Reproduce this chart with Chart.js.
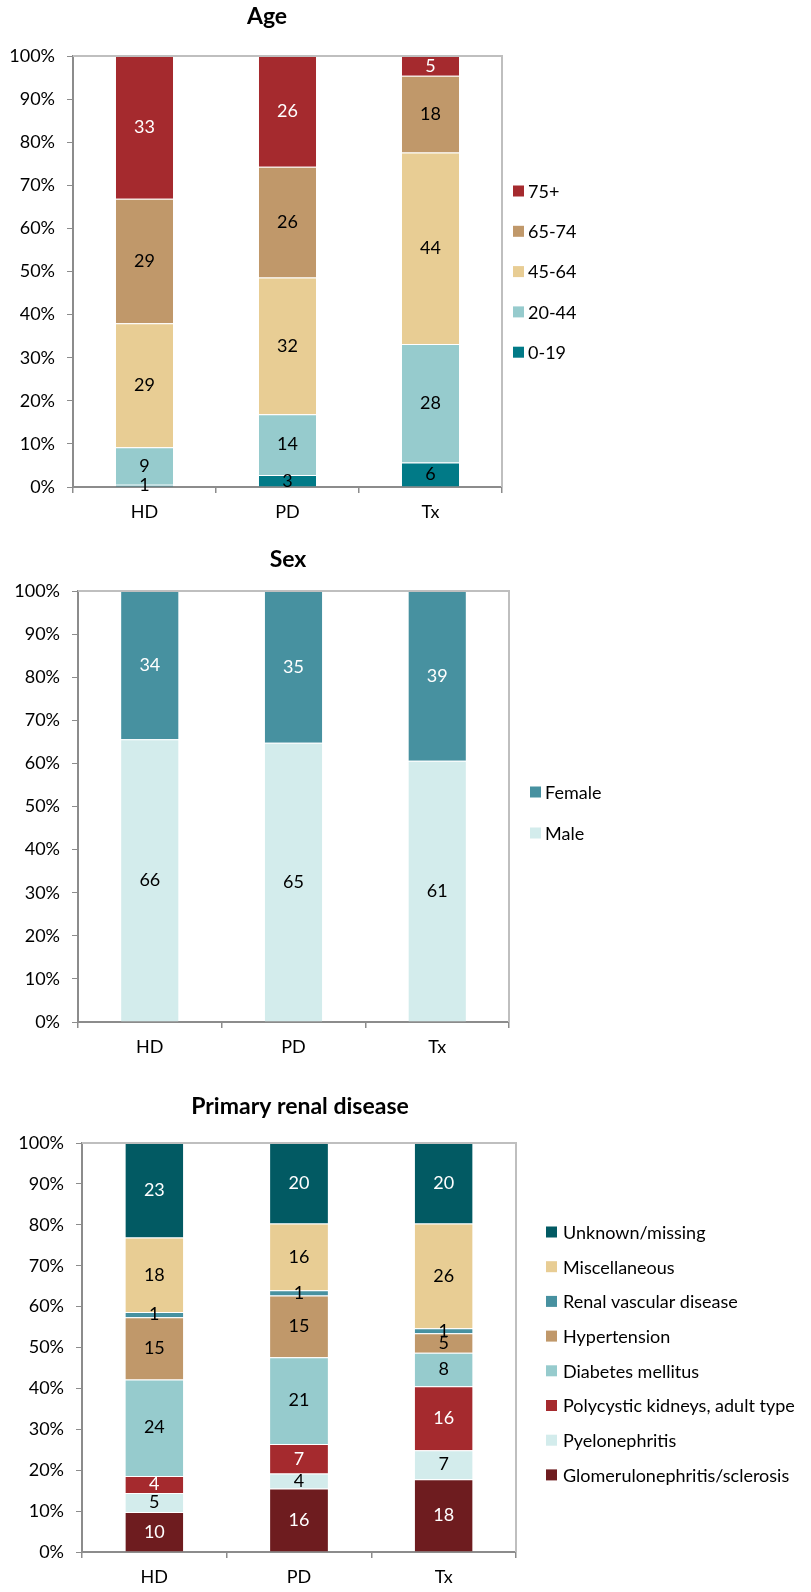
<!DOCTYPE html>
<html>
<head>
<meta charset="utf-8">
<script src="https://cdn.jsdelivr.net/npm/chart.js@4"></script>
<style>
  body { margin: 0; background: #fff; }
  canvas { position: absolute; left: 0; }
</style>
</head>
<body>
<canvas id="ageChart" width="811" height="530" style="top:0px"></canvas>
<canvas id="sexChart" width="811" height="535" style="top:530px"></canvas>
<canvas id="prdChart" width="811" height="527" style="top:1065px"></canvas>
<script>
// categories
const categories = ["HD", "PD", "Tx"];
const yTicks = [0, 10, 20, 30, 40, 50, 60, 70, 80, 90, 100];

// Age (% of patients)
const age0to19 = [0.5, 2.8, 5.7];
const age20to44 = [8.7, 14.1, 27.5];
const age45to64 = [28.8, 31.7, 44.4];
const age65to74 = [28.9, 25.7, 17.8];
const age75plus = [33.1, 25.7, 4.6];

// Sex
const male = [65.6, 64.8, 60.6];
const female = [34.4, 35.2, 39.4];

// Primary renal disease
const glomerulo = [9.8, 15.5, 17.8];
const pyelo = [4.6, 3.7, 7.1];
const polycystic = [4.2, 7.2, 15.6];
const diabetes = [23.6, 21.2, 8.2];
const hypertension = [15.2, 15.1, 4.8];
const renalVasc = [1.3, 1.3, 1.2];
const misc = [18.2, 16.3, 25.6];
const unknown = [23.1, 19.7, 19.7];

const FONT = "Lato";
const FS = 18;

// title, legend, value labels and the plot frame
const overlay = {
  id: "overlay",
  afterDatasetsDraw(chart, args, opts) {
    const ctx = chart.ctx;
    const a = chart.chartArea;
    ctx.save();
    ctx.strokeStyle = "#BFBFBF";
    ctx.lineWidth = 2;
    ctx.beginPath();
    ctx.moveTo(a.left, a.top);
    ctx.lineTo(a.right, a.top);
    ctx.lineTo(a.right, a.bottom);
    ctx.stroke();

    ctx.font = FS + "px " + FONT;
    ctx.textAlign = "center";
    ctx.textBaseline = "middle";
    chart.data.datasets.forEach((ds, i) => {
      chart.getDatasetMeta(i).data.forEach((bar, j) => {
        ctx.fillStyle = ds.labelColor;
        ctx.fillText(Math.round(ds.data[j]), bar.x, (bar.y + bar.base) / 2);
      });
    });

    ctx.font = "bold 23px " + FONT;
    ctx.fillStyle = "#000";
    ctx.fillText(opts.title, opts.titleX, opts.titleY);

    ctx.font = FS + "px " + FONT;
    ctx.textAlign = "left";
    const n = chart.data.datasets.length;
    for (let k = 0; k < n; k++) {
      const ds = chart.data.datasets[n - 1 - k];
      const y = opts.legendY + k * opts.legendGap;
      ctx.fillStyle = ds.backgroundColor;
      ctx.fillRect(opts.legendX, y - 5.5, 11, 11);
      ctx.fillStyle = "#000";
      ctx.fillText(ds.label, opts.legendX + opts.legendTextGap, y + 1);
    }
    ctx.restore();
  }
};

function ds(label, data, color, labelColor) {
  return {
    label: label,
    data: data,
    backgroundColor: color,
    labelColor: labelColor,
    borderWidth: { top: 1 },
    borderColor: "rgba(255,255,255,0.3)",
    borderSkipped: "bottom",
    categoryPercentage: 1,
    barPercentage: 0.4
  };
}

function makeOptions(c) {
  const tickFont = { family: FONT, size: FS };
  return {
    responsive: false,
    animation: false,
    layout: { padding: { left: 0, right: c.padRight, top: c.padTop, bottom: 0 } },
    plugins: {
      legend: { display: false },
      tooltip: { enabled: false },
      overlay: c.overlay
    },
    scales: {
      x: {
        stacked: true,
        grid: { display: true, drawOnChartArea: false, offset: true, tickLength: 6, color: "#8C8C8C", lineWidth: 1.5 },
        border: { display: true, color: "#8C8C8C", width: 2 },
        ticks: { color: "#000", font: tickFont, padding: 8 },
        afterFit(s) { s.height = c.xh; }
      },
      y: {
        stacked: true,
        min: 0,
        max: 100,
        afterBuildTicks(s) { s.ticks = yTicks.map(v => ({ value: v })); },
        ticks: { color: "#000", font: tickFont, padding: 12, callback: v => v + "%" },
        grid: { drawOnChartArea: false, tickLength: 6, color: "#8C8C8C" },
        border: { display: true, color: "#8C8C8C", width: 2 },
        afterFit(s) { s.width = c.yw; }
      }
    }
  };
}

new Chart(document.getElementById("ageChart"), {
  type: "bar",
  data: {
    labels: categories,
    datasets: [
      ds("0-19", age0to19, "#017A87", "#000"),
      ds("20-44", age20to44, "#96CBCD", "#000"),
      ds("45-64", age45to64, "#E8CD94", "#000"),
      ds("65-74", age65to74, "#C0986A", "#000"),
      ds("75+", age75plus, "#A52A2E", "#fff")
    ]
  },
  options: makeOptions({
    padTop: 56, padRight: 309, yw: 73, xh: 43,
    overlay: { title: "Age", titleX: 267, titleY: 17, legendX: 513, legendY: 191, legendGap: 40.3, legendTextGap: 15 }
  }),
  plugins: [overlay]
});

new Chart(document.getElementById("sexChart"), {
  type: "bar",
  data: {
    labels: categories,
    datasets: [
      ds("Male", male, "#D3ECEC", "#000"),
      ds("Female", female, "#4791A0", "#fff")
    ]
  },
  options: makeOptions({
    padTop: 61, padRight: 302, yw: 78, xh: 43,
    overlay: { title: "Sex", titleX: 288, titleY: 30, legendX: 530, legendY: 262, legendGap: 41, legendTextGap: 15 }
  }),
  plugins: [overlay]
});

new Chart(document.getElementById("prdChart"), {
  type: "bar",
  data: {
    labels: categories,
    datasets: [
      ds("Glomerulonephritis/sclerosis", glomerulo, "#6E1C1F", "#fff"),
      ds("Pyelonephritis", pyelo, "#D3ECEC", "#000"),
      ds("Polycystic kidneys, adult type", polycystic, "#A52A2E", "#fff"),
      ds("Diabetes mellitus", diabetes, "#96CBCD", "#000"),
      ds("Hypertension", hypertension, "#C0986A", "#000"),
      ds("Renal vascular disease", renalVasc, "#4791A0", "#000"),
      ds("Miscellaneous", misc, "#E8CD94", "#000"),
      ds("Unknown/missing", unknown, "#025A63", "#fff")
    ]
  },
  options: makeOptions({
    padTop: 78, padRight: 295, yw: 82, xh: 40,
    overlay: { title: "Primary renal disease", titleX: 300, titleY: 42, legendX: 546, legendY: 167, legendGap: 34.7, legendTextGap: 17 }
  }),
  plugins: [overlay]
});
</script>
</body>
</html>
